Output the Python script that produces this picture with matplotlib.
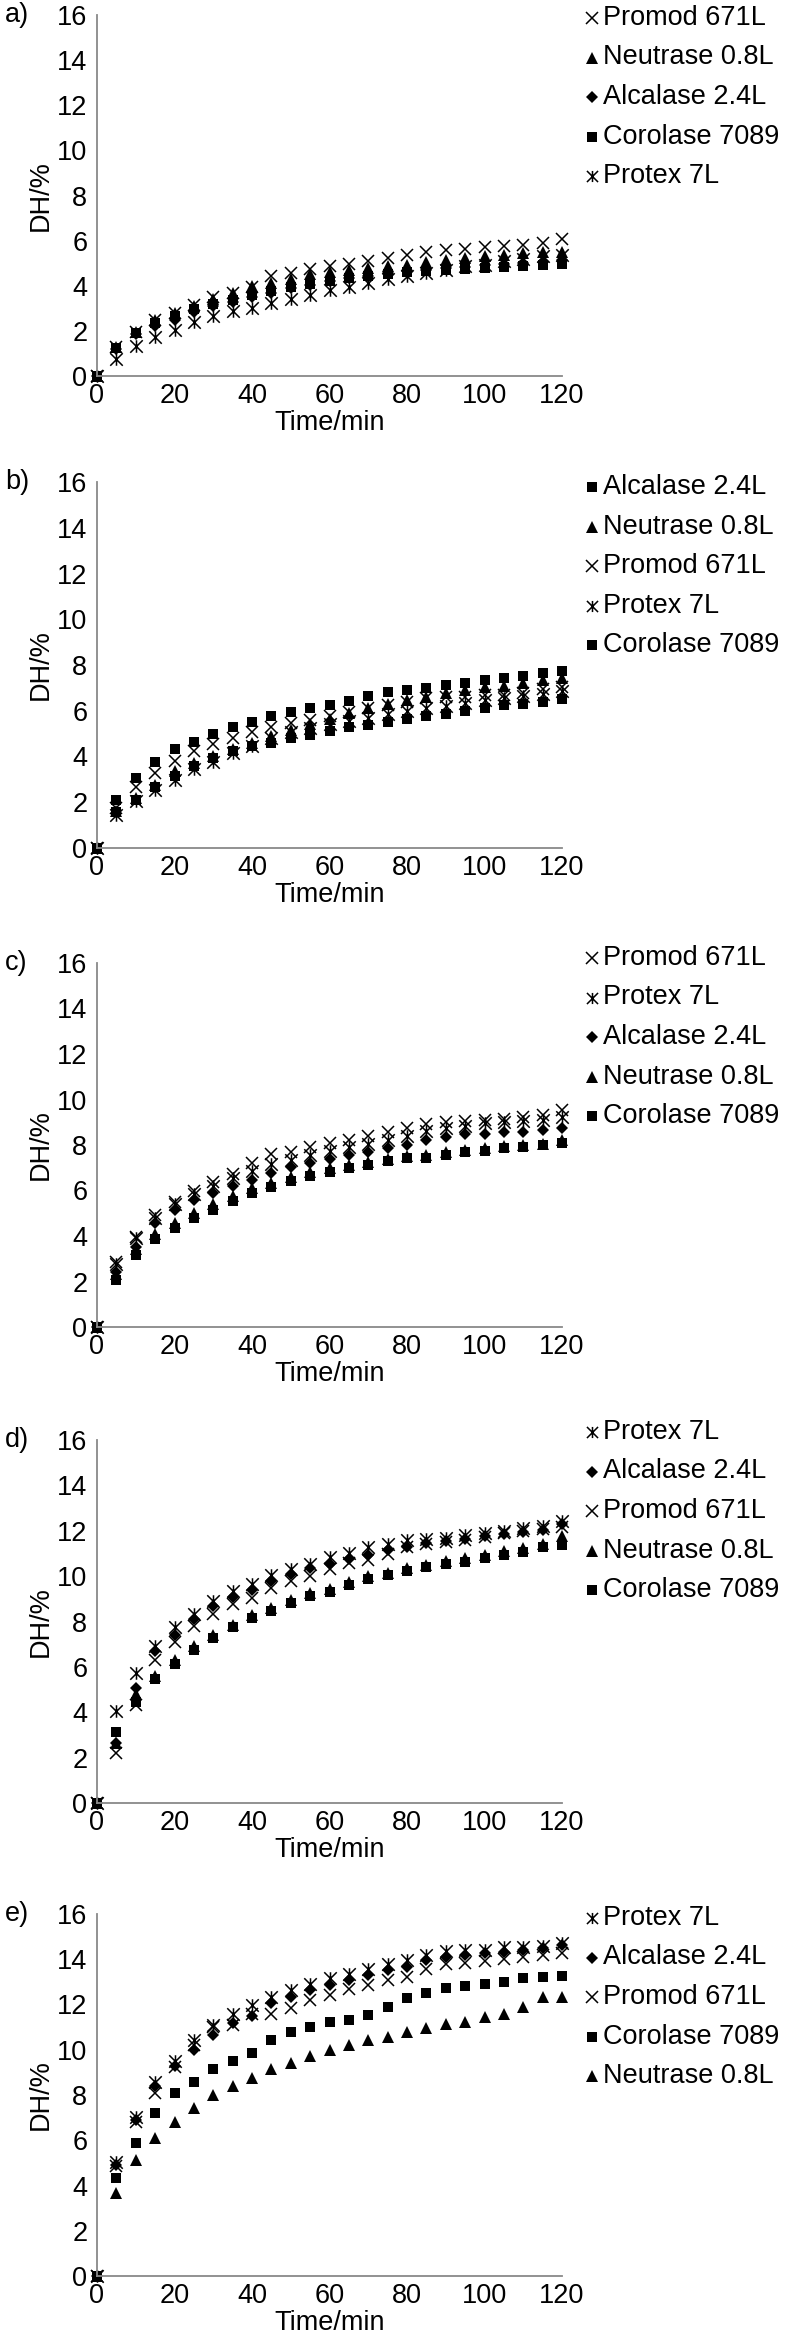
import matplotlib
matplotlib.use("Agg")
import matplotlib.pyplot as plt
from matplotlib.lines import Line2D
from matplotlib.path import Path

plt.rcParams['font.family'] = ['Liberation Sans', 'DejaVu Sans']

time_min = list(range(0, 125, 5))
x_ticks = [0, 20, 40, 60, 80, 100, 120]
y_ticks = [0, 2, 4, 6, 8, 10, 12, 14, 16]

# a)
a_promod = [0, 1.3, 1.95, 2.5, 2.8, 3.15, 3.5, 3.7, 3.95, 4.43, 4.57, 4.75, 4.87, 4.97, 5.1, 5.25, 5.38, 5.5, 5.58, 5.63, 5.72, 5.78, 5.8, 5.9, 6.05]
a_neutrase = [0, 1.3, 1.95, 2.5, 2.8, 3.1, 3.4, 3.7, 3.98, 4.1, 4.3, 4.5, 4.6, 4.72, 4.8, 4.87, 4.94, 5.06, 5.16, 5.24, 5.34, 5.38, 5.46, 5.48, 5.5]
a_alcalase = [0, 1.2, 1.85, 2.2, 2.5, 2.85, 3.1, 3.3, 3.5, 3.7, 3.9, 4.05, 4.2, 4.35, 4.45, 4.55, 4.65, 4.72, 4.8, 4.85, 4.9, 4.95, 5.0, 5.05, 5.15]
a_corolase = [0, 1.25, 1.92, 2.36, 2.68, 2.95, 3.17, 3.39, 3.57, 3.76, 3.94, 4.09, 4.23, 4.35, 4.45, 4.52, 4.6, 4.65, 4.7, 4.75, 4.8, 4.83, 4.87, 4.91, 4.97]
a_protex = [0, 0.77, 1.33, 1.74, 2.06, 2.39, 2.65, 2.88, 3.02, 3.24, 3.42, 3.61, 3.8, 3.95, 4.13, 4.28, 4.42, 4.57, 4.72, 4.87, 4.94, 5.09, 5.19, 5.31, 5.38]

# b)
b_alcalase = [0, 2.11, 3.08, 3.74, 4.32, 4.65, 4.97, 5.28, 5.53, 5.75, 5.96, 6.11, 6.25, 6.44, 6.66, 6.81, 6.91, 7.01, 7.11, 7.2, 7.35, 7.42, 7.53, 7.64, 7.74]
b_neutrase = [0, 1.6, 2.2, 2.75, 3.35, 3.7, 4.04, 4.33, 4.6, 4.9, 5.15, 5.4, 5.65, 5.9, 6.1, 6.3, 6.45, 6.6, 6.78, 6.9, 7.05, 7.1, 7.23, 7.35, 7.45]
b_promod = [0, 1.75, 2.65, 3.27, 3.81, 4.22, 4.55, 4.8, 5.05, 5.31, 5.48, 5.6, 5.79, 5.96, 6.11, 6.25, 6.4, 6.55, 6.59, 6.62, 6.69, 6.69, 6.76, 6.94, 7.03]
b_protex = [0, 1.45, 2.04, 2.55, 2.98, 3.45, 3.78, 4.15, 4.44, 4.8, 5.05, 5.25, 5.42, 5.55, 5.7, 5.85, 5.98, 6.1, 6.22, 6.34, 6.45, 6.55, 6.65, 6.75, 6.85]
b_corolase = [0, 1.56, 2.11, 2.65, 3.16, 3.6, 3.93, 4.22, 4.47, 4.61, 4.8, 4.95, 5.12, 5.27, 5.38, 5.53, 5.64, 5.75, 5.85, 5.99, 6.11, 6.23, 6.3, 6.4, 6.5]

# c)
c_promod = [0, 2.86, 3.96, 4.92, 5.5, 5.99, 6.39, 6.72, 7.2, 7.6, 7.71, 7.9, 8.08, 8.22, 8.4, 8.56, 8.74, 8.93, 8.99, 9.07, 9.1, 9.15, 9.25, 9.32, 9.54]
c_protex = [0, 2.75, 3.9, 4.8, 5.4, 5.85, 6.2, 6.55, 6.85, 7.15, 7.35, 7.55, 7.72, 7.9, 8.05, 8.2, 8.4, 8.6, 8.75, 8.85, 8.95, 9.0, 9.05, 9.1, 9.25]
c_alcalase = [0, 2.4, 3.5, 4.58, 5.14, 5.58, 5.9, 6.2, 6.46, 6.78, 7.05, 7.22, 7.37, 7.56, 7.71, 7.86, 8.0, 8.22, 8.33, 8.47, 8.49, 8.56, 8.59, 8.66, 8.74]
c_neutrase = [0, 2.35, 3.45, 4.1, 4.55, 5.0, 5.4, 5.75, 6.1, 6.35, 6.6, 6.8, 6.97, 7.12, 7.27, 7.4, 7.5, 7.56, 7.68, 7.78, 7.85, 7.95, 8.0, 8.05, 8.2]
c_corolase = [0, 2.06, 3.16, 3.85, 4.33, 4.77, 5.14, 5.55, 5.87, 6.14, 6.42, 6.64, 6.83, 7.0, 7.12, 7.3, 7.42, 7.42, 7.56, 7.71, 7.75, 7.86, 7.93, 8.0, 8.08]

# d)
d_protex = [0, 4.06, 5.72, 6.93, 7.74, 8.35, 8.9, 9.34, 9.64, 10.04, 10.3, 10.55, 10.85, 11.0, 11.28, 11.42, 11.6, 11.65, 11.7, 11.8, 11.9, 12.0, 12.1, 12.2, 12.45]
d_alcalase = [0, 2.65, 5.05, 6.7, 7.4, 8.1, 8.7, 9.1, 9.4, 9.8, 10.1, 10.35, 10.55, 10.75, 10.95, 11.15, 11.3, 11.45, 11.55, 11.65, 11.75, 11.85, 11.95, 12.05, 12.3]
d_promod = [0, 2.19, 4.3, 6.31, 7.08, 7.81, 8.35, 8.79, 9.02, 9.49, 9.78, 10.0, 10.33, 10.58, 10.7, 10.99, 11.28, 11.4, 11.5, 11.6, 11.74, 11.88, 11.97, 12.07, 12.15]
d_neutrase = [0, 2.63, 4.8, 5.6, 6.3, 6.9, 7.4, 7.85, 8.3, 8.6, 8.95, 9.25, 9.45, 9.75, 10.0, 10.15, 10.35, 10.5, 10.65, 10.8, 10.95, 11.1, 11.25, 11.4, 11.75]
d_corolase = [0, 3.14, 4.45, 5.47, 6.13, 6.76, 7.27, 7.74, 8.15, 8.47, 8.83, 9.12, 9.31, 9.61, 9.87, 10.04, 10.22, 10.41, 10.53, 10.63, 10.8, 10.92, 11.07, 11.28, 11.36]

# e)
e_protex = [0, 5.05, 7.04, 8.59, 9.5, 10.43, 11.09, 11.6, 11.97, 12.34, 12.64, 12.9, 13.15, 13.37, 13.55, 13.77, 13.96, 14.18, 14.37, 14.4, 14.43, 14.52, 14.52, 14.58, 14.7]
e_alcalase = [0, 4.9, 6.9, 8.4, 9.3, 10.01, 10.65, 11.2, 11.5, 12.05, 12.31, 12.64, 12.86, 13.08, 13.3, 13.52, 13.67, 13.96, 14.11, 14.18, 14.26, 14.33, 14.43, 14.48, 14.62]
e_promod = [0, 4.86, 6.82, 8.07, 9.25, 10.21, 10.99, 11.09, 11.58, 11.58, 11.83, 12.19, 12.42, 12.67, 12.86, 13.08, 13.23, 13.55, 13.78, 13.84, 13.93, 13.99, 14.11, 14.18, 14.26]
e_corolase = [0, 4.32, 5.86, 7.19, 8.07, 8.59, 9.13, 9.51, 9.87, 10.43, 10.77, 10.99, 11.21, 11.31, 11.53, 11.9, 12.27, 12.49, 12.71, 12.81, 12.89, 13.0, 13.15, 13.23, 13.27]
e_neutrase = [0, 3.68, 5.13, 6.08, 6.79, 7.41, 8.0, 8.39, 8.73, 9.13, 9.43, 9.72, 10.01, 10.21, 10.43, 10.57, 10.77, 10.94, 11.16, 11.24, 11.46, 11.58, 11.87, 12.31, 12.31]

# Excel-like "star" marker: an x with a vertical stroke
star = Path([(-1, -1), (1, 1), (-1, 1), (1, -1), (0, -1), (0, 1)],
            [Path.MOVETO, Path.LINETO, Path.MOVETO, Path.LINETO, Path.MOVETO, Path.LINETO])

styles = {
  'x': dict(marker='x', markersize=9, markeredgewidth=1.1, color='black'),
  '^': dict(marker='^', markersize=9, color='black', markeredgewidth=0),
  'D': dict(marker='D', markersize=6.5, color='black', markeredgewidth=0),
  's': dict(marker='s', markersize=7.5, color='black', markeredgewidth=0),
  '*': dict(marker=star, markersize=9, markeredgewidth=1.1, color='black',
            markerfacecolor='none'),
}
legend_styles = dict(styles)
legend_styles['x'] = dict(styles['x'], markersize=8)
legend_styles['*'] = dict(styles['*'], markersize=8)

# (label, top px, bottom px, legend first-row px, series in legend/draw order)
panels = [
  ('a)', 15, 376, 18, [('Promod 671L', a_promod, 'x'), ('Neutrase 0.8L', a_neutrase, '^'),
                       ('Alcalase 2.4L', a_alcalase, 'D'), ('Corolase 7089', a_corolase, 's'),
                       ('Protex 7L', a_protex, '*')]),
  ('b)', 482, 848, 487, [('Alcalase 2.4L', b_alcalase, 's'), ('Neutrase 0.8L', b_neutrase, '^'),
                         ('Promod 671L', b_promod, 'x'), ('Protex 7L', b_protex, '*'),
                         ('Corolase 7089', b_corolase, 's')]),
  ('c)', 963, 1327, 958, [('Promod 671L', c_promod, 'x'), ('Protex 7L', c_protex, '*'),
                          ('Alcalase 2.4L', c_alcalase, 'D'), ('Neutrase 0.8L', c_neutrase, '^'),
                          ('Corolase 7089', c_corolase, 's')]),
  ('d)', 1440, 1803, 1432, [('Protex 7L', d_protex, '*'), ('Alcalase 2.4L', d_alcalase, 'D'),
                            ('Promod 671L', d_promod, 'x'), ('Neutrase 0.8L', d_neutrase, '^'),
                            ('Corolase 7089', d_corolase, 's')]),
  ('e)', 1914, 2276, 1918, [('Protex 7L', e_protex, '*'), ('Alcalase 2.4L', e_alcalase, 'D'),
                            ('Promod 671L', e_promod, 'x'), ('Corolase 7089', e_corolase, 's'),
                            ('Neutrase 0.8L', e_neutrase, '^')]),
]

W, H = 790, 2334
fig = plt.figure(figsize=(W / 100, H / 100), dpi=100)
axis_grey = '#898989'
fs = 19.5

for tag, top, bottom, leg_top, series in panels:
  ax = fig.add_axes([97 / W, 1 - bottom / H, (562 - 97) / W, (bottom - top) / H])
  for label, vals, key in series:
    ax.plot(time_min, vals, linestyle='none', clip_on=False, **styles[key])
  ax.set_xlim(0, 120)
  ax.set_ylim(0, 16)
  ax.set_xticks(x_ticks)
  ax.set_yticks(y_ticks)
  ax.tick_params(length=0, labelsize=fs)
  ax.tick_params(axis='x', pad=5)
  ax.tick_params(axis='y', pad=7)
  for side in ('top', 'right'):
    ax.spines[side].set_visible(False)
  for side in ('left', 'bottom'):
    ax.spines[side].set_color(axis_grey)
    ax.spines[side].set_linewidth(1.3)
  ax.set_xlabel('Time/min', fontsize=fs, labelpad=1)
  ax.set_ylabel('DH/%', fontsize=fs, labelpad=2)
  fig.text(5 / W, 1 - top / H, tag, fontsize=fs, va='center', ha='left')

  # legend, placed by hand to the right of the plot
  for i, (label, vals, key) in enumerate(series):
    y = 1 - (leg_top + i * 39.5) / H
    fig.add_artist(Line2D([592 / W], [y], transform=fig.transFigure,
                          linestyle='none', **legend_styles[key]))
    fig.text(603 / W, y, label, fontsize=fs, va='center', ha='left')

fig.savefig('out.png', dpi=100, facecolor='white')
